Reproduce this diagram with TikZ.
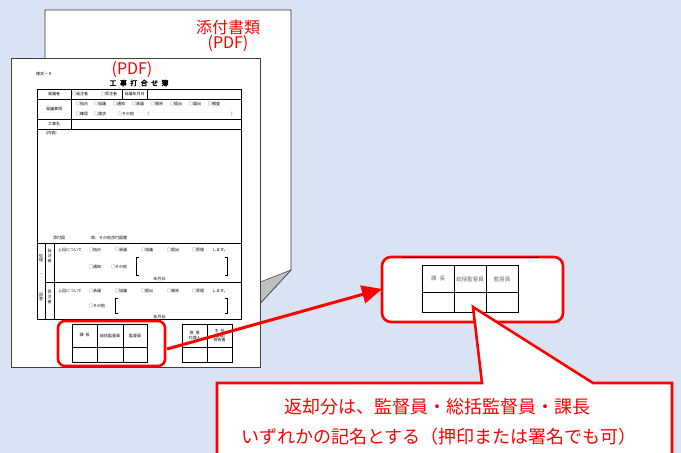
\documentclass[tikz,border=0pt]{standalone}
\usepackage{fontspec}
\newfontfamily\jp{Noto Sans CJK JP}
\newfontfamily\jpb[FakeBold=2.5]{Noto Sans CJK JP}
\usetikzlibrary{arrows.meta}
\definecolor{bg}{RGB}{218,227,243}
\definecolor{foldgray}{RGB}{191,191,191}
\definecolor{labgray}{RGB}{100,100,100}
\begin{document}
\begin{tikzpicture}[x=1pt,y=-1pt,
  every node/.style={inner sep=0pt, outer sep=0pt},
  tiny/.style={font=\jp\fontsize{4}{4.6}\selectfont},
  tinyl/.style={tiny, anchor=west},
  redlab/.style={font=\jp\fontsize{16}{18}\selectfont, text=red},
  calltext/.style={font=\jp\fontsize{18}{20}\selectfont, text=red},
  formline/.style={draw=black, line width=0.8pt},
  redbox/.style={draw=red, line width=2.6pt, rounded corners=7pt},
  graylab/.style={font=\jp\fontsize{5.5}{6}\selectfont, text=labgray},
]
\fill[bg] (0,0) rectangle (681,453);
\useasboundingbox (0,0) rectangle (681,453);
\clip (0,0) rectangle (681,453);

% back page (attachment)
\draw[fill=white, draw=black!80, line width=0.8pt] (45,10) -- (291,10) -- (291,270) -- (254,310) -- (45,310) -- cycle;
\draw[fill=foldgray, draw=black!70, line width=0.6pt] (291,270) -- (255,284) -- (254,310) -- cycle;
\node[redlab] (attach) at (228,27) {添付書類};
\node[redlab] (attachpdf) at (228,44) {(PDF)};

% front page
\draw[fill=white, draw=black!75, line width=0.9pt] (11,58) rectangle (260,367);
\node[redlab] (pdf) at (132,70) {(PDF)};
\node[tiny] (yoshiki) at (44,74) {様式－９};
\node[font=\jpb\fontsize{7}{8}\selectfont] (title) at (139,83)
  {工\hspace{3.4pt}事\hspace{3.4pt}打\hspace{3.4pt}合\hspace{3.4pt}せ\hspace{3.4pt}簿};

% form table
\draw[formline] (37,89) rectangle (241,319);
\draw[formline] (37,99) -- (241,99);
\draw[formline] (37,119) -- (241,119);
\draw[formline] (37,129) -- (241,129);
\draw[formline] (37,243) -- (241,243);
\draw[formline] (45,282) -- (241,282);
\draw[formline] (71,89) -- (71,129);
\draw[formline] (122,89) -- (122,99);
\draw[formline] (147,89) -- (147,99);
\draw[formline] (45,243) -- (45,319);
\draw[formline] (54,243) -- (54,319);

\node[tiny] (hatsugisha) at (54,94) {発議者};
\node[tinyl] (c1) at (72,94) {□発注者};
\node[tinyl] (c2) at (101,94) {□受注者};
\node[tiny] (hatsugibi) at (134.5,94) {発議年月日};

\node[tiny] (jiko) at (54,109) {発議事項};
\node[tinyl] (j1) at (76,104) {□指示};
\node[tinyl] (j2) at (94,104) {□協議};
\node[tinyl] (j3) at (113,104) {□通知};
\node[tinyl] (j4) at (132,104) {□承諾};
\node[tinyl] (j5) at (151,104) {□報告};
\node[tinyl] (j6) at (170,104) {□提出};
\node[tinyl] (j7) at (189,104) {□届出};
\node[tinyl] (j8) at (208,104) {□検査};
\node[tinyl] (j9) at (76,114) {□確認};
\node[tinyl] (j10) at (94,114) {□請求};
\node[tinyl] (j11) at (118,114) {□その他};
\node[tinyl] (j12) at (145,114) {（};
\node[tinyl] (j13) at (231,114) {）};

\node[tiny] (kojimei) at (54,124) {工事名};
\node[tinyl] (naiyo) at (46,133) {(内容)};
\node[tiny] (tenpu) at (59,238) {添付図};
\node[tiny] (tenpu2) at (109,238) {枚、その他添付図書};

% processing / answer
\node[tiny, align=center] (shori) at (41,258) {処\\理};
\node[tiny] (dot) at (41,275) {・};
\node[tiny, align=center] (kaito) at (41,297) {回\\答};
\node[tiny, align=center] (hch) at (49.5,256) {発\\注\\者};
\node[tiny, align=center] (jch) at (49.5,297) {受\\注\\者};

\node[tinyl] (a0) at (58,250) {上記について};
\node[tinyl] (a1) at (89,250) {□指示};
\node[tinyl] (a2) at (115,250) {□承諾};
\node[tinyl] (a3) at (141,250) {□協議};
\node[tinyl] (a4) at (167,250) {□提出};
\node[tinyl] (a5) at (192,250) {□受理};
\node[tinyl] (a6) at (212,250) {します。};
\node[tinyl] (a7) at (89,267) {□通知};
\node[tinyl] (a8) at (111,267) {□その他};
\draw[line width=0.7pt] (138.5,257) -- (136,257) -- (136,275) -- (138.5,275);
\draw[line width=0.7pt] (224.5,257) -- (227,257) -- (227,275) -- (224.5,275);
\node[tiny] (a9) at (160,278.5) {年月日:};

\node[tinyl] (b0) at (58,291) {上記について};
\node[tinyl] (b1) at (89,291) {□承諾};
\node[tinyl] (b2) at (115,291) {□協議};
\node[tinyl] (b3) at (141,291) {□提出};
\node[tinyl] (b4) at (167,291) {□報告};
\node[tinyl] (b5) at (192,291) {□受理};
\node[tinyl] (b6) at (212,291) {します。};
\node[tinyl] (b7) at (89,306) {□その他};
\draw[line width=0.7pt] (117.5,298) -- (115,298) -- (115,313) -- (117.5,313);
\draw[line width=0.7pt] (224.5,298) -- (227,298) -- (227,313) -- (224.5,313);
\node[tiny] (b9) at (160,317) {年月日:};

% stamp boxes on front page
\draw[formline] (72,324) rectangle (147,362);
\draw[formline] (72,347) -- (147,347);
\draw[formline] (97,324) -- (97,362);
\draw[formline] (123,324) -- (123,362);
\node[tiny] (s1) at (84.5,335.5) {課\hspace{2pt}長};
\node[tiny] (s2) at (110,335.5) {総括監督員};
\node[tiny] (s3) at (135,335.5) {監督員};

\draw[formline] (182,324) rectangle (232,362);
\draw[formline] (182,347) -- (232,347);
\draw[formline] (207,324) -- (207,362);
\node[tiny, align=center] (s4) at (194.5,335.5) {現\hspace{2pt}場\\代理人};
\node[tiny, align=center] (s5) at (219.5,335.5) {主\hspace{2pt}任\\(監理)\\技術者};

% red selection on front page
\node[redbox, minimum width=107pt, minimum height=45pt] (frontsel) at (111.5,343.5) {};

% enlarged box
\node[redbox, rounded corners=9pt, fill=white, minimum width=181pt, minimum height=65pt] (bigsel) at (472.5,289.5) {};
\draw[black, line width=1pt] (403,257.5) -- (538,257.5);
\draw[formline] (422,265) rectangle (518,312);
\draw[formline] (422,292) -- (518,292);
\draw[formline] (454,265) -- (454,312);
\draw[formline] (486,265) -- (486,312);
\node[graylab] (g1) at (438,279) {課\hspace{3pt}長};
\node[graylab] (g2) at (470,279) {総括監督員};
\node[graylab] (g3) at (502,279) {監督員};

% arrow
\coordinate (arrfrom) at (167,349);
\coordinate (arrto) at (382,289);
\draw[red, line width=3pt, -{Triangle[length=20pt,width=18pt]}] (arrfrom) -- (arrto);

% callout
\draw[red, line width=2.6pt, fill=white, line join=miter]
  (217,383) -- (482,383) -- (473,307) -- (593,383) -- (672,383) -- (672,470) -- (217,470) -- cycle;
\node[calltext] (msg1) at (437,407) {返却分は、監督員・総括監督員・課長};
\node[calltext] (msg2) at (439,437) {いずれかの記名とする（押印または署名でも可）};
\end{tikzpicture}
\end{document}
